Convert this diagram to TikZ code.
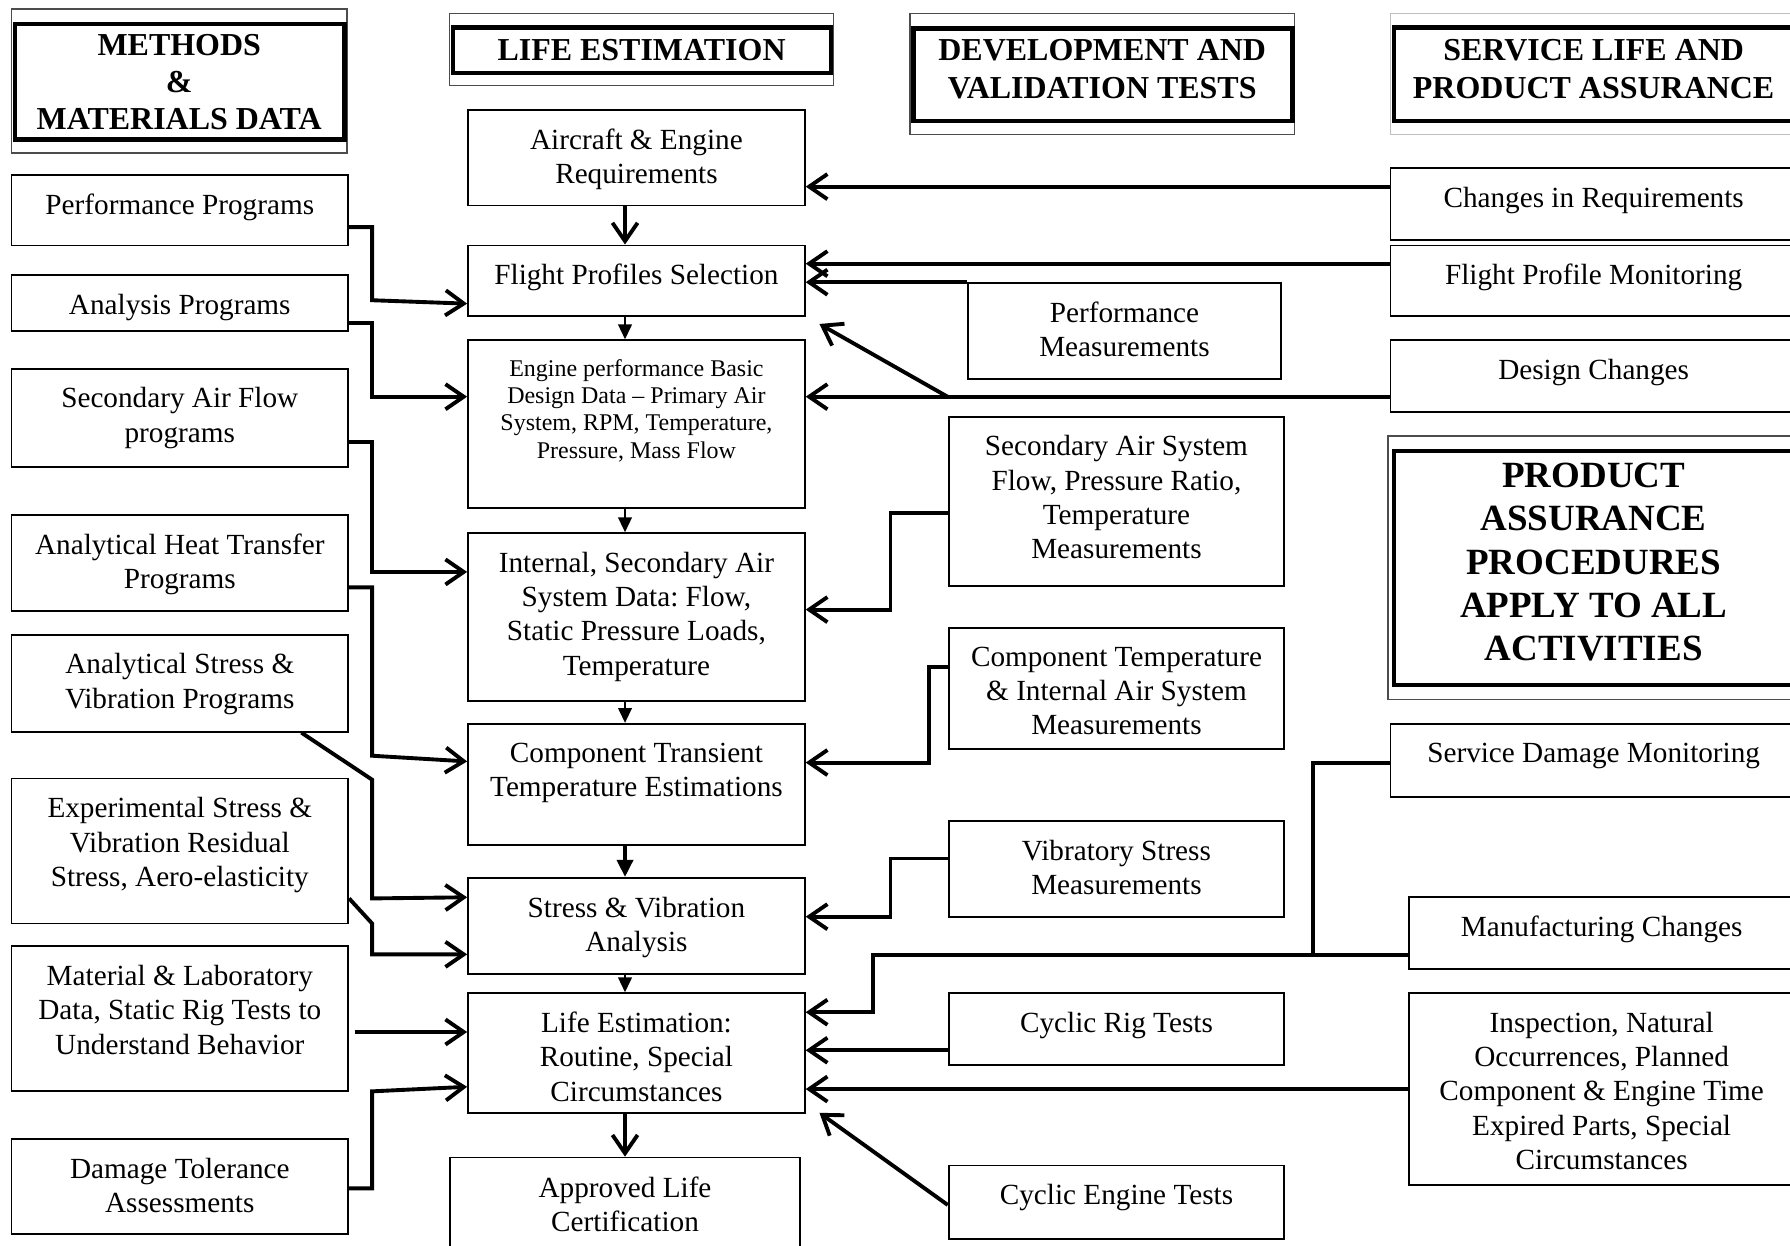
\documentclass[tikz,border=0pt]{standalone}
\usepackage{fontspec}
\setmainfont{Liberation Serif}
\usepackage{tikz}
\usetikzlibrary{arrows.meta,fit}
\frenchspacing

\newcommand{\bodyfnt}{\fontsize{12.8}{15}\selectfont}
\newcommand{\headfnt}{\fontsize{14}{16.3}\selectfont\bfseries}
% box drawn between two corners, text hung from its top edge
\newcommand{\blk}[7][]{%
  \node[blk, fit={(#3,#4) (#5,#6)}] (#2) {};
  \node[txt, #1] (#2t) at ([yshift=-8.5pt]#2.north) {#7};
}

\begin{document}
\begin{tikzpicture}[x=0.5pt, y=-0.5pt,
    blk/.style={draw, line width=0.8pt, inner sep=0pt},
    txt/.style={align=center, inner sep=0pt, anchor=north, font=\bodyfnt},
    hout/.style={draw=black!70, line width=0.6pt, inner sep=0pt},
    hin/.style={draw, line width=2pt, inner sep=0pt},
    htxt/.style={align=center, inner sep=0pt, font=\headfnt},
    conn/.style={line width=1.7pt, -{Straight Barb[length=8pt,width=11pt]}},
    feed/.style={line width=0.8pt, -{Triangle[length=6.5pt,width=6pt]}},
    bus/.style={line width=1.7pt}]
  \useasboundingbox (0,0) rectangle (1568,1091);
  \clip (0,0) rectangle (1568,1091);

  % column headings
  \node[hout, fit={(10,8) (304,134)}] (meth) {};
  \node[hin, fit={(13,21) (302,122)}] (methin) {};
  \node[htxt] (metht) at (157,72) {METHODS\\\&\\MATERIALS DATA};
  \node[hout, fit={(394,12) (730,75)}] (life) {};
  \node[hin, fit={(397,24) (728,64)}] (lifein) {};
  \node[htxt] (lifet) at (562,44) {LIFE ESTIMATION};
  \node[hout, fit={(797,12) (1134,118)}] (dev) {};
  \node[hin, fit={(800,25) (1132,106)}] (devin) {};
  \node[htxt] (devt) at (965.5,60.5) {DEVELOPMENT AND\\VALIDATION TESTS};
  \node[hout, draw=black!25, fit={(1218,12) (1600,118)}] (serv) {};
  \node[hin, fit={(1221,24) (1600,106)}] (servin) {};
  \node[htxt] (servt) at (1396,60.5) {SERVICE LIFE AND\\PRODUCT ASSURANCE};
  \node[hout, fit={(1216,382) (1600,613)}] (pa) {};
  \node[hin, fit={(1221,395) (1600,600)}] (pain) {};
  \node[htxt, font=\fontsize{16.2}{19}\selectfont\bfseries] (pat) at (1396,492.5)
    {PRODUCT\\ASSURANCE\\PROCEDURES\\APPLY TO ALL\\ACTIVITIES};

  % methods and materials data
  \blk{perf}{10}{153}{305}{215}{Performance Programs}
  \blk{anal}{10}{241}{305}{290}{Analysis Programs}
  \blk{sec}{10}{323}{305}{409}{Secondary Air Flow\\programs}
  \blk{heat}{10}{451}{305}{535}{Analytical Heat Transfer\\Programs}
  \blk{astr}{10}{556}{305}{641}{Analytical Stress \&\\Vibration Programs}
  \blk{exp}{10}{682}{305}{809}{Experimental Stress \&\\Vibration Residual\\Stress, Aero-elasticity}
  \blk{mat}{10}{829}{305}{956}{Material \& Laboratory\\Data, Static Rig Tests to\\Understand Behavior}
  \blk{dmg}{10}{998}{305}{1081}{Damage Tolerance\\Assessments}

  % life estimation
  \blk{acft}{410}{96}{705}{180}{Aircraft \& Engine\\Requirements}
  \blk{fps}{410}{215}{705}{277}{Flight Profiles Selection}
  \blk[font=\fontsize{10.5}{12}\selectfont]{eng}{410}{298}{705}{445}{Engine performance Basic\\Design Data -- Primary Air\\System, RPM, Temperature,\\Pressure, Mass Flow}
  \blk{intl}{410}{467}{705}{614}{Internal, Secondary Air\\System Data: Flow,\\Static Pressure Loads,\\Temperature}
  \blk{ctt}{410}{634}{705}{740}{Component Transient\\Temperature Estimations}
  \blk{sva}{410}{769}{705}{853}{Stress \& Vibration\\Analysis}
  \blk{les}{410}{870}{705}{975}{Life Estimation:\\Routine, Special\\Circumstances}
  \blk{appr}{394}{1014}{701}{1096}{Approved Life\\Certification}

  % development and validation tests
  \blk{pmeas}{848}{248}{1122}{332}{Performance\\Measurements}
  \blk{sairs}{831}{365}{1125}{513}{Secondary Air System\\Flow, Pressure Ratio,\\Temperature\\Measurements}
  \blk{ctemp}{831}{550}{1125}{656}{Component Temperature\\\& Internal Air System\\Measurements}
  \blk{vib}{831}{719}{1125}{803}{Vibratory Stress\\Measurements}
  \blk{rig}{831}{870}{1125}{933}{Cyclic Rig Tests}
  \blk{ceng}{831}{1021}{1125}{1085}{Cyclic Engine Tests}

  % service life and product assurance
  \blk{creq}{1218}{147}{1574}{210}{Changes in Requirements}
  \blk{fpm}{1218}{215}{1574}{277}{Flight Profile Monitoring}
  \blk{dsgn}{1218}{298}{1574}{361}{Design Changes}
  \blk{sdm}{1218}{634}{1574}{698}{Service Damage Monitoring}
  \blk{mfg}{1234}{786}{1572}{849}{Manufacturing Changes}
  \blk{insp}{1234}{870}{1572}{1038}{Inspection, Natural\\Occurrences, Planned\\Component \& Engine Time\\Expired Parts, Special\\Circumstances}

  % main chain
  \draw[conn] (acft.south -| appr) -- (fps.north -| appr);
  \draw[feed] (fps.south -| appr) -- (eng.north -| appr);
  \draw[feed] (eng.south -| appr) -- (intl.north -| appr);
  \draw[feed] (intl.south -| appr) -- (ctt.north -| appr);
  \draw[line width=1.7pt, -{Triangle[length=7.5pt,width=7pt]}] (ctt.south -| appr) -- (sva.north -| appr);
  \draw[feed] (sva.south -| appr) -- (les.north -| appr);
  \draw[conn] (les.south -| appr) -- (appr.north);

  % from the left
  \draw[conn] (perf.east |- 0,199) -| (326,263) -- (fps.west |- 0,266);
  \draw[conn] (anal.east |- 0,283) -| (326,347.5) -- (eng.west |- 0,347.5);
  \draw[conn] (sec.east |- 0,387.5) -| (326,501) -- (intl.west |- 0,501);
  \draw[conn] (heat.east |- 0,514.5) -| (326,662) -- (ctt.west |- 0,667);
  \draw[conn] (astr.south -| 264,0) -- (326,683) -- (326,787) -- (sva.west |- 0,786);
  \draw[conn] (exp.east |- 0,787) -- (326,809) -- (326,836) -- (sva.west |- 0,836);
  \draw[conn] ([xshift=2.5pt]mat.east |- 0,904) -- (les.west |- 0,904);
  \draw[conn] (dmg.east |- 0,1041) -| (326,956) -- (les.west |- 0,952);

  % from the right
  \draw[conn] (creq.west |- 0,163.5) -- (acft.east |- 0,163.5);
  \draw[conn] (fpm.west |- 0,231) -- (fps.east |- 0,231);
  \draw[conn] (pmeas.north west) -- (pmeas.north west -| fps.east);
  \coordinate (dj) at (830,347.5);
  \draw[conn] (dsgn.west |- dj) -- (eng.east |- dj);
  \draw[conn] (dj) -- ([shift={(12,6)}]fps.south east);
  \draw[conn] (sairs.west |- 0,449.7) -| (780,534) -- (intl.east |- 0,534);
  \draw[conn] (ctemp.west |- 0,584) -| (814,668) -- (ctt.east |- 0,668);
  \draw[conn] (vib.west |- 0,752) -| (780,803) -- (sva.east |- 0,803);
  \draw[bus] (sdm.west |- 0,668) -| (1150,836.5);
  \draw[conn] (mfg.west |- 0,836.5) -| (765,886.7) -- (les.east |- 0,886.7);
  \draw[conn] (rig.west |- 0,920) -- (les.east |- 0,920);
  \draw[conn] (insp.west |- 0,954) -- (les.east |- 0,954);
  \draw[conn] (ceng.west |- 0,1055.5) -- ([shift={(12,-1)}]les.south east);
\end{tikzpicture}
\end{document}
